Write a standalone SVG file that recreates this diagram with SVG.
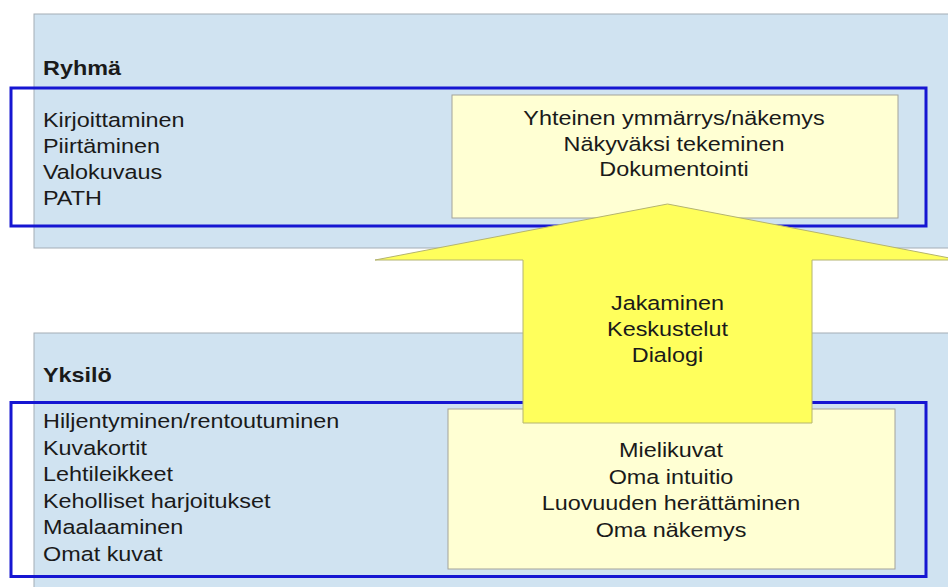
<svg xmlns="http://www.w3.org/2000/svg" width="948" height="587" viewBox="0 0 948 587">
<style>
.panel{fill:#D0E3F1;stroke:#A4ADB6;stroke-width:1}
.frame{fill:none;stroke:#1616D2;stroke-width:3}
.box{fill:#FFFFD3;stroke:#A3A39A;stroke-width:1}
.arrow{fill:#FFFF5C;stroke:#B4B470;stroke-width:1}
text{font-family:"Liberation Sans",Arial,sans-serif;font-size:19.5px;fill:#1A1A1A}
.title{font-weight:bold}
.c{text-anchor:middle}
</style>
<rect width="948" height="587" fill="#FFFFFF"/>
<g id="ryhma">
  <rect class="panel" x="34" y="14" width="930" height="234"/>
  <text class="title" transform="translate(43,74.5) scale(1.2,1)">Ryhmä</text>
  <rect class="frame" x="11" y="88" width="915" height="138"/>
</g>
<g id="ryhma-methods">
  <text transform="translate(43,126.5) scale(1.2,1)">Kirjoittaminen</text>
  <text transform="translate(43,152.5) scale(1.2,1)">Piirtäminen</text>
  <text transform="translate(43,178.5) scale(1.2,1)">Valokuvaus</text>
  <text transform="translate(43,204.5) scale(1.2,1)">PATH</text>
</g>
<g id="ryhma-outcomes">
  <rect class="box" x="452" y="95" width="446" height="123"/>
  <text class="c" transform="translate(674,125) scale(1.2,1)">Yhteinen ymmärrys/näkemys</text>
  <text class="c" transform="translate(674,150.5) scale(1.2,1)">Näkyväksi tekeminen</text>
  <text class="c" transform="translate(674,176) scale(1.2,1)">Dokumentointi</text>
</g>
<g id="yksilo">
  <rect class="panel" x="34" y="333" width="930" height="270"/>
  <text class="title" transform="translate(43,382) scale(1.2,1)">Yksilö</text>
  <rect class="frame" x="11" y="402.5" width="915" height="174"/>
</g>
<g id="yksilo-methods">
  <text transform="translate(43,428) scale(1.2,1)">Hiljentyminen/rentoutuminen</text>
  <text transform="translate(43,454.5) scale(1.2,1)">Kuvakortit</text>
  <text transform="translate(43,481) scale(1.2,1)">Lehtileikkeet</text>
  <text transform="translate(43,507.5) scale(1.2,1)">Keholliset harjoitukset</text>
  <text transform="translate(43,534) scale(1.2,1)">Maalaaminen</text>
  <text transform="translate(43,560.5) scale(1.2,1)">Omat kuvat</text>
</g>
<g id="yksilo-outcomes">
  <rect class="box" x="448" y="409" width="447" height="160"/>
  <text class="c" transform="translate(671,457) scale(1.2,1)">Mielikuvat</text>
  <text class="c" transform="translate(671,483.5) scale(1.2,1)">Oma intuitio</text>
  <text class="c" transform="translate(671,510) scale(1.2,1)">Luovuuden herättäminen</text>
  <text class="c" transform="translate(671,536.5) scale(1.2,1)">Oma näkemys</text>
</g>
<g id="connectors">
  <polygon class="arrow" points="667.5,204 960,260 812,260 812,423 523,423 523,260 375,260"/>
  <text class="c" transform="translate(667.5,310) scale(1.2,1)">Jakaminen</text>
  <text class="c" transform="translate(667.5,336) scale(1.2,1)">Keskustelut</text>
  <text class="c" transform="translate(667.5,362) scale(1.2,1)">Dialogi</text>
</g>
</svg>
